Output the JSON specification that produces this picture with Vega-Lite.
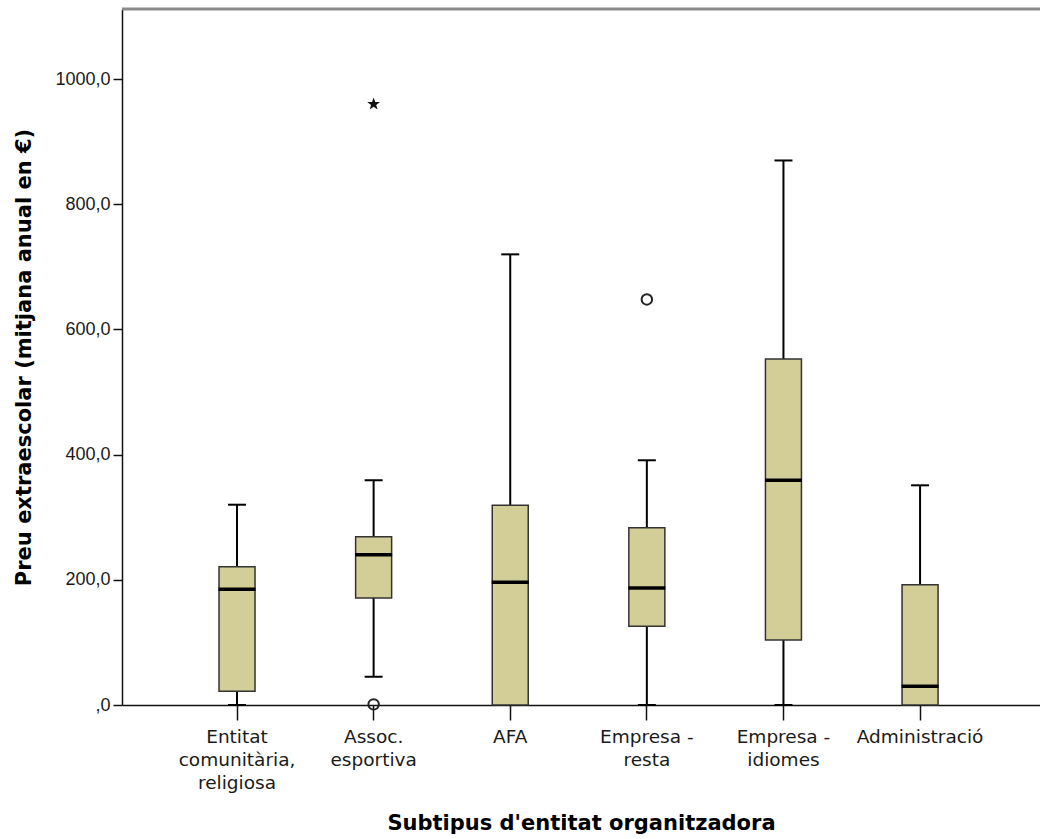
{
  "$schema": "https://vega.github.io/schema/vega-lite/v6.json",
  "autosize": {"type": "none"},
  "width": 918,
  "height": 696,
  "padding": {"left": 122, "top": 9, "right": 0, "bottom": 134},
  "background": "white",
  "config": {
    "view": {"stroke": null},
    "font": "Liberation Sans",
    "tick": {"opacity": 1},
    "axis": {"grid": false, "labelFont": "Liberation Sans", "titleFont": "DejaVu Sans", "labelColor": "#1a1a1a", "titleColor": "#000", "domainColor": "#111", "tickColor": "#111"}
  },
  "datasets": {
    "boxes": [
      {"cat": "Entitat|comunitària,|religiosa", "lower": 0, "q1": 22, "median": 185, "q3": 221, "upper": 320},
      {"cat": "Assoc.|esportiva", "lower": 45, "q1": 171, "median": 240, "q3": 269, "upper": 359},
      {"cat": "AFA", "lower": 0, "q1": 0, "median": 196, "q3": 319, "upper": 720},
      {"cat": "Empresa -|resta", "lower": 0, "q1": 126, "median": 187, "q3": 283, "upper": 391},
      {"cat": "Empresa -|idiomes", "lower": 0, "q1": 104, "median": 359, "q3": 553, "upper": 870},
      {"cat": "Administració", "lower": 0, "q1": 0, "median": 30, "q3": 192, "upper": 351}
    ],
    "outliers": [
      {"cat": "Assoc.|esportiva", "value": 1, "kind": "circle"},
      {"cat": "Empresa -|resta", "value": 648, "kind": "circle"},
      {"cat": "Assoc.|esportiva", "value": 960, "kind": "star"}
    ]
  },
  "encoding": {
    "x": {
      "field": "cat",
      "type": "nominal",
      "sort": ["Entitat|comunitària,|religiosa", "Assoc.|esportiva", "AFA", "Empresa -|resta", "Empresa -|idiomes", "Administració"],
      "scale": {"paddingInner": 0, "paddingOuter": 0.36, "align": 0.475},
      "axis": {
        "title": "Subtipus d'entitat organitzadora",
        "titleFontSize": 21,
        "titleFontWeight": "bold",
        "titlePadding": 21,
        "labelFont": "DejaVu Sans",
        "labelFontSize": 18.5,
        "labelAngle": 0,
        "labelExpr": "split(datum.value, '|')",
        "labelLineHeight": 23,
        "labelPadding": 7,
        "tickSize": 15,
        "tickWidth": 1.5,
        "domainWidth": 1.5
      }
    }
  },
  "layer": [
    {
      "data": {"name": "boxes"},
      "mark": {"type": "rule", "color": "#000", "strokeWidth": 2},
      "encoding": {
        "y": {
          "field": "lower",
          "type": "quantitative",
          "scale": {"domain": [0, 1112], "nice": false},
          "axis": {
            "title": "Preu extraescolar (mitjana anual en €)",
            "titleFontSize": 21,
            "titleFontWeight": "bold",
            "titlePadding": 20,
            "values": [0, 200, 400, 600, 800, 1000],
            "labelExpr": "datum.value == 0 ? ',0' : replace(format(datum.value, '.1f'), '.', ',')",
            "labelFontSize": 18,
            "labelPadding": 3,
            "tickSize": 9,
            "tickWidth": 1.5,
            "domainWidth": 1.5
          }
        },
        "y2": {"field": "upper"}
      }
    },
    {
      "data": {"name": "boxes"},
      "mark": {"type": "tick", "color": "#000", "size": 18, "thickness": 2, "opacity": 1},
      "encoding": {"y": {"field": "upper", "type": "quantitative"}}
    },
    {
      "data": {"name": "boxes"},
      "mark": {"type": "tick", "color": "#000", "size": 18, "thickness": 2, "opacity": 1},
      "encoding": {"y": {"field": "lower", "type": "quantitative"}}
    },
    {
      "data": {"name": "boxes"},
      "mark": {"type": "bar", "size": 36, "fill": "#d3ce97", "stroke": "#333333", "strokeWidth": 1.5},
      "encoding": {
        "y": {"field": "q1", "type": "quantitative"},
        "y2": {"field": "q3"}
      }
    },
    {
      "data": {"name": "boxes"},
      "mark": {"type": "tick", "color": "#000", "size": 37, "thickness": 3.5, "opacity": 1},
      "encoding": {"y": {"field": "median", "type": "quantitative"}}
    },
    {
      "data": {"name": "outliers"},
      "transform": [{"filter": "datum.kind == 'circle'"}],
      "mark": {"type": "point", "shape": "circle", "size": 110, "stroke": "#222", "strokeWidth": 2, "fill": null, "filled": false, "opacity": 1},
      "encoding": {"y": {"field": "value", "type": "quantitative"}}
    },
    {
      "data": {"name": "outliers"},
      "transform": [{"filter": "datum.kind == 'star'"}],
      "mark": {"type": "point", "shape": "M0,-1L0.235,-0.324L0.951,-0.309L0.38,0.124L0.588,0.809L0,0.4L-0.588,0.809L-0.38,0.124L-0.951,-0.309L-0.235,-0.324Z", "size": 180, "filled": true, "color": "#111", "opacity": 1},
      "encoding": {"y": {"field": "value", "type": "quantitative"}}
    },
    {
      "data": {"values": [{}]},
      "mark": {"type": "rule", "color": "#8a8a8a", "strokeWidth": 3},
      "encoding": {"y": {"datum": 1112, "type": "quantitative"}, "x": {"value": 0}, "x2": {"value": 930}}
    }
  ]
}
